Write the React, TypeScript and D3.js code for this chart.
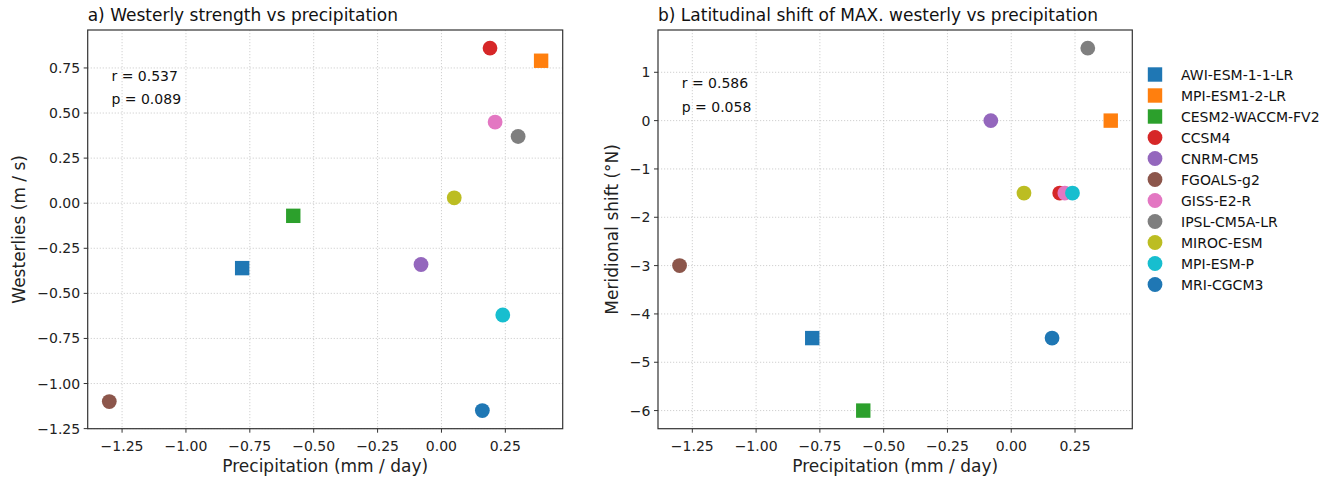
import React from "react";
import * as d3 from "d3";

// ---- data ----
const models = [
  "AWI-ESM-1-1-LR",
  "MPI-ESM1-2-LR",
  "CESM2-WACCM-FV2",
  "CCSM4",
  "CNRM-CM5",
  "FGOALS-g2",
  "GISS-E2-R",
  "IPSL-CM5A-LR",
  "MIROC-ESM",
  "MPI-ESM-P",
  "MRI-CGCM3",
];
const markerShapes = ["square", "square", "square", "circle", "circle", "circle", "circle", "circle", "circle", "circle", "circle"];
const modelColors = ["#1f77b4", "#ff7f0e", "#2ca02c", "#d62728", "#9467bd", "#8c564b", "#e377c2", "#7f7f7f", "#bcbd22", "#17becf", "#1f77b4"];
const precipitation = [-0.78, 0.39, -0.58, 0.19, -0.08, -1.3, 0.21, 0.3, 0.05, 0.24, 0.16];
const westerlies = [-0.36, 0.79, -0.07, 0.86, -0.34, -1.1, 0.45, 0.37, 0.03, -0.62, -1.15];
const meridionalShift = [-4.5, 0.0, -6.0, -1.5, 0.0, -3.0, -1.5, 1.5, -1.5, -1.5, -4.5];

const xTicks = [-1.25, -1.0, -0.75, -0.5, -0.25, 0.0, 0.25];
const yTicksA = [-1.25, -1.0, -0.75, -0.5, -0.25, 0.0, 0.25, 0.5, 0.75];
const yTicksB = [-6, -5, -4, -3, -2, -1, 0, 1];

const statsA = ["r = 0.537", "p = 0.089"];
const statsB = ["r = 0.586", "p = 0.058"];

const FONT = "DejaVu Sans, sans-serif";
const minus = (s: string) => s.replace(/-/g, "\u2212");

function padDomain(vals: number[]): [number, number] {
  const [lo, hi] = d3.extent(vals) as [number, number];
  const m = (hi - lo) * 0.05;
  return [lo - m, hi + m];
}

type PanelProps = {
  left: number;
  right: number;
  top: number;
  bottom: number;
  yVals: number[];
  yTicks: number[];
  yFmt: (v: number) => string;
  title: string;
  ylabel: string;
  ylabelX: number;
  stats: string[];
  statsY: number[];
};

function Panel(p: PanelProps) {
  const x = d3.scaleLinear().domain(padDomain(precipitation)).range([p.left, p.right]);
  const y = d3.scaleLinear().domain(padDomain(p.yVals)).range([p.bottom, p.top]);
  const xFmt = d3.format(".2f");
  const grid = { stroke: "#c4c4c4", strokeWidth: 0.8, strokeDasharray: "1.2,1.8" };
  const cy = (p.top + p.bottom) / 2;
  const cx = (p.left + p.right) / 2;
  return (
    <g>
      {xTicks.map((t) => (
        <line key={"gx" + t} x1={x(t)} x2={x(t)} y1={p.top} y2={p.bottom} {...grid} />
      ))}
      {p.yTicks.map((t) => (
        <line key={"gy" + t} x1={p.left} x2={p.right} y1={y(t)} y2={y(t)} {...grid} />
      ))}
      {precipitation.map((px, i) => {
        const X = x(px);
        const Y = y(p.yVals[i]);
        return markerShapes[i] === "square" ? (
          <rect key={"m" + i} x={X - 7.2} y={Y - 7.2} width={14.4} height={14.4} fill={modelColors[i]} />
        ) : (
          <circle key={"m" + i} cx={X} cy={Y} r={7.4} fill={modelColors[i]} />
        );
      })}
      <rect x={p.left} y={p.top} width={p.right - p.left} height={p.bottom - p.top} fill="none" stroke="#333" strokeWidth={1.2} />
      {xTicks.map((t) => (
        <g key={"tx" + t}>
          <line x1={x(t)} x2={x(t)} y1={p.bottom} y2={p.bottom + 4} stroke="#333" strokeWidth={1} />
          <text x={x(t)} y={450.5} textAnchor="middle" fontSize={14} fontFamily={FONT} fill="#222">
            {minus(xFmt(t))}
          </text>
        </g>
      ))}
      {p.yTicks.map((t) => (
        <g key={"ty" + t}>
          <line x1={p.left - 4} x2={p.left} y1={y(t)} y2={y(t)} stroke="#333" strokeWidth={1} />
          <text x={p.left - 7.5} y={y(t) + 5} textAnchor="end" fontSize={14} fontFamily={FONT} fill="#222">
            {minus(p.yFmt(t))}
          </text>
        </g>
      ))}
      <text x={p.left} y={21} fontSize={17} fontFamily={FONT} fill="#111">
        {p.title}
      </text>
      <text x={cx} y={472} textAnchor="middle" fontSize={17} fontFamily={FONT} fill="#222">
        Precipitation (mm / day)
      </text>
      <text
        x={p.ylabelX}
        y={cy}
        textAnchor="middle"
        dominantBaseline="central"
        fontSize={17}
        fontFamily={FONT}
        fill="#222"
        transform={`rotate(-90 ${p.ylabelX} ${cy})`}
      >
        {p.ylabel}
      </text>
      {p.stats.map((s, i) => (
        <text key={s} x={p.left + 0.05 * (p.right - p.left)} y={p.statsY[i]} fontSize={14} fontFamily={FONT} fill="#111">
          {s}
        </text>
      ))}
    </g>
  );
}

export default function App() {
  const legendX = 1155;
  const legendY0 = 74.5;
  const legendStep = 21;
  return (
    <div style={{ position: "absolute", left: 0, top: 0 }}>
      <svg width={1338} height={482} style={{ display: "block", background: "#fff" }}>
        <Panel
          left={87.7}
          right={562.7}
          top={30}
          bottom={428.7}
          yVals={westerlies}
          yTicks={yTicksA}
          yFmt={d3.format(".2f")}
          title="a) Westerly strength vs precipitation"
          ylabel="Westerlies (m / s)"
          ylabelX={19}
          stats={statsA}
          statsY={[81, 104]}
        />
        <Panel
          left={658}
          right={1132.3}
          top={30}
          bottom={428.7}
          yVals={meridionalShift}
          yTicks={yTicksB}
          yFmt={d3.format("d")}
          title="b) Latitudinal shift of MAX. westerly vs precipitation"
          ylabel="Meridional shift (°N)"
          ylabelX={612}
          stats={statsB}
          statsY={[87.5, 111.5]}
        />
        {models.map((m, i) => {
          const cy = legendY0 + i * legendStep;
          return (
            <g key={m}>
              {markerShapes[i] === "square" ? (
                <rect x={legendX - 7.2} y={cy - 7.2} width={14.4} height={14.4} fill={modelColors[i]} />
              ) : (
                <circle cx={legendX} cy={cy} r={7.4} fill={modelColors[i]} />
              )}
              <text x={1181} y={cy + 5} fontSize={14} fontFamily={FONT} fill="#111">
                {m}
              </text>
            </g>
          );
        })}
      </svg>
    </div>
  );
}
